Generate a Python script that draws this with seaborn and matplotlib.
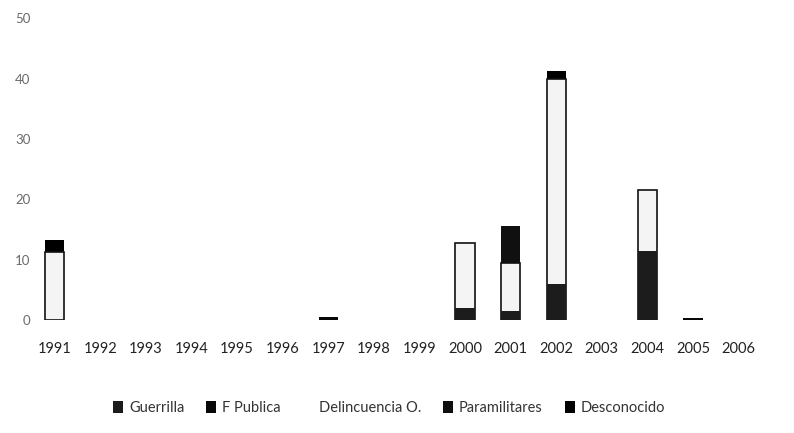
import numpy as np
import pandas as pd
import matplotlib
matplotlib.use("Agg")
import matplotlib.pyplot as plt
from matplotlib.patches import Patch
import seaborn as sns

years = [str(y) for y in range(1991, 2007)]
series_names = ["Guerrilla", "F Publica", "Delincuencia O.", "Paramilitares", "Desconocido"]
guerrilla     = [0, 0, 0, 0, 0, 0, 0,   0, 0, 2.0, 1.5, 6.0, 0, 11.5, 0,   0]
f_publica     = [0, 0, 0, 0, 0, 0, 0.5, 0, 0, 0,   0,   0,   0, 0,    0.4, 0]
delincuencia  = [11.2, 0, 0, 0, 0, 0, 0, 0, 0, 10.7, 8.0, 34.0, 0, 10.0, 0, 0]
paramilitares = [0, 0, 0, 0, 0, 0, 0,   0, 0, 0,   6.0, 0,   0, 0,    0,   0]
desconocido   = [2.0, 0, 0, 0, 0, 0, 0, 0, 0, 0,   0,   1.2, 0, 0,    0,   0]
yticks = [0, 10, 20, 30, 40, 50]

colors = ["#1c1c1c", "#080808", "#f4f4f4", "#101010", "#000000"]
edges = ["#1c1c1c", "#080808", "#111111", "#101010", "#000000"]

sns.set_theme(style="white")
plt.rcParams["font.family"] = ["Lato", "DejaVu Sans"]

fig = plt.figure(figsize=(7.94, 4.33), dpi=100)
ax = fig.add_axes([0.04, 0.261, 0.919, 0.697])

vals = np.array([guerrilla, f_publica, delincuencia, paramilitares, desconocido])
cum = np.cumsum(vals, axis=0)

# draw from top layer down so each lower cumulative bar covers the part below
for i in range(len(series_names) - 1, -1, -1):
    heights = np.where(vals[i] > 0, cum[i], np.nan)
    df = pd.DataFrame({"year": years, "value": heights})
    sns.barplot(data=df, x="year", y="value", order=years, color=colors[i],
                saturation=1, width=0.42, edgecolor=edges[i],
                linewidth=1.2 if i == 2 else 0, ax=ax, errorbar=None)
# redraw lower layers over the light layer outlines
for i in range(1, -1, -1):
    heights = np.where(vals[i] > 0, cum[i], np.nan)
    df = pd.DataFrame({"year": years, "value": heights})
    sns.barplot(data=df, x="year", y="value", order=years, color=colors[i],
                saturation=1, width=0.42, linewidth=0, ax=ax, errorbar=None)

ax.set_ylim(0, 50)
ax.set_yticks(yticks)
ax.set_yticklabels([str(t) for t in yticks], fontsize=9.5, color="#6a6a6a")
ax.set_xlim(-0.5, len(years) - 0.5)
ax.tick_params(axis="x", labelsize=10.5, colors="#222222", pad=16, length=0)
ax.tick_params(axis="y", pad=1, length=0)
ax.set_xlabel("")
ax.set_ylabel("")
for s in ax.spines.values():
    s.set_visible(False)
ax.grid(False)

handles = [Patch(facecolor=colors[i], edgecolor="none") for i in range(5)]
handles[2] = Patch(facecolor="white", edgecolor="none")
fig.legend(handles, series_names, loc="center", bbox_to_anchor=(0.49, 0.058),
           ncol=5, frameon=False, fontsize=10.5, handlelength=0.7, handleheight=0.9,
           handletextpad=0.4, columnspacing=1.5, labelcolor="#333333")

fig.savefig("out.png", dpi=100)
